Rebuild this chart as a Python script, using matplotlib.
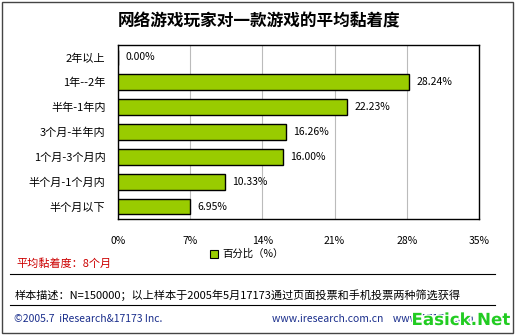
import matplotlib.pyplot as plt
import matplotlib.patheffects as pe
from matplotlib.patches import Rectangle
from matplotlib.lines import Line2D

plt.rcParams['font.family'] = ['Noto Sans CJK SC', 'DejaVu Sans']

categories = ['2年以上', '1年--2年', '半年-1年内', '3个月-半年内', '1个月-3个月内', '半个月-1个月内', '半个月以下']
values = [0.00, 28.24, 22.23, 16.26, 16.00, 10.33, 6.95]
labels = ['0.00%', '28.24%', '22.23%', '16.26%', '16.00%', '10.33%', '6.95%']
xticks = [0, 7, 14, 21, 28, 35]

W, H = 517, 335
fig = plt.figure(figsize=(W / 100, H / 100), dpi=100)
fig.patch.set_facecolor('white')

def fx(px):
    return px / W

def fy(py):
    return 1 - py / H

# outer frame
fig.patches.append(Rectangle((fx(2), fy(333)), fx(511), 331 / H, transform=fig.transFigure,
                             fill=False, edgecolor='#444444', linewidth=1))

fig.text(fx(259), fy(22), '网络游戏玩家对一款游戏的平均黏着度', ha='center', va='center',
         fontsize=12, fontweight='bold')

ax = fig.add_axes([fx(118), fy(219), fx(361), (219 - 45) / H])
y = list(range(len(categories)))
ax.barh(y, values, height=0.63, color='#99CC00', edgecolor='black', linewidth=1, zorder=3)
for yi, v, t in zip(y, values, labels):
    ax.text(v + 0.7, yi, t, va='center', ha='left', fontsize=7.5)

ax.set_ylim(len(categories) - 0.5, -0.5)
ax.set_xlim(0, 35)
ax.set_yticks(y)
ax.set_yticklabels(categories, fontsize=8)
ax.set_xticks(xticks)
ax.set_xticklabels([f'{t}%' for t in xticks], fontsize=7.5)
ax.tick_params(axis='y', length=0, pad=9)
ax.tick_params(axis='x', length=0, pad=12)
ax.grid(axis='x', color='#BBBBBB', linewidth=0.8, zorder=0)
for s in ax.spines.values():
    s.set_color('black')
    s.set_linewidth(1)

# legend
fig.patches.append(Rectangle((fx(210), fy(258)), fx(8), 8 / H, transform=fig.transFigure,
                             facecolor='#99CC00', edgecolor='black', linewidth=0.8))
fig.text(fx(222), fy(254), '百分比（%）', ha='left', va='center', fontsize=7.5)

fig.text(fx(16), fy(264), '平均黏着度：8个月', ha='left', va='center', fontsize=8, color='#CC0000')
fig.lines.append(Line2D([fx(10), fx(495)], [fy(274), fy(274)], transform=fig.transFigure,
                        color='black', linewidth=0.8))
fig.text(fx(15), fy(295), '样本描述：N=150000；以上样本于2005年5月17173通过页面投票和手机投票两种筛选获得',
         ha='left', va='center', fontsize=8)
fig.lines.append(Line2D([fx(10), fx(495)], [fy(305), fy(305)], transform=fig.transFigure,
                        color='black', linewidth=0.8))
fig.text(fx(14), fy(319), '©2005.7  iResearch&17173 Inc.', ha='left', va='center',
         fontsize=7.5, color='#1A2E8C')
fig.text(fx(272), fy(319), 'www.iresearch.com.cn    www.17173.com', ha='left', va='center',
         fontsize=7.5, color='#1A2E8C')
fig.text(fx(510), fy(320), 'Easick.Net', ha='right', va='center', fontsize=12,
         fontweight='bold', color='#22CC22', family='DejaVu Sans',
         path_effects=[pe.withStroke(linewidth=2, foreground='white')])

fig.savefig('out.png', dpi=100)
